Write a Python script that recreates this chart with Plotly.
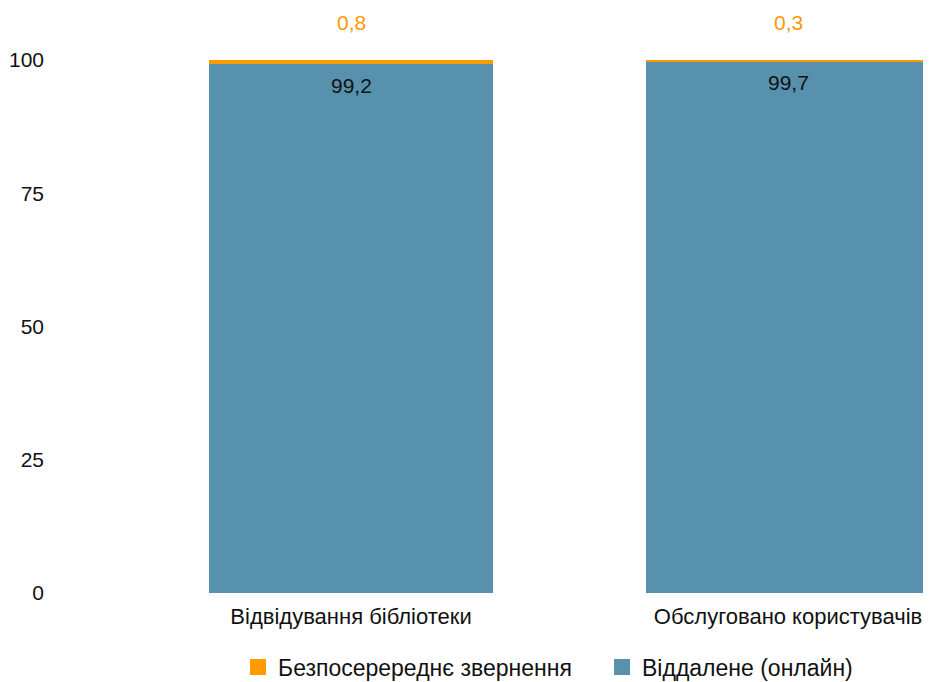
import plotly.graph_objects as go

categories = ["Відвідування бібліотеки", "Обслуговано користувачів"]
online = [99.2, 99.7]
direct = [0.8, 0.3]
series_names = ["Безпосеререднє звернення", "Віддалене (онлайн)"]
y_ticks = [0, 25, 50, 75, 100]

BLUE = "#5891AE"
ORANGE = "#FF9A00"
FONT = "Liberation Sans, Arial, sans-serif"

def fmt(v):
    return f"{v:.1f}".replace(".", ",")

x_idx = list(range(len(categories)))

fig = go.Figure()
fig.add_trace(go.Bar(
    x=x_idx, y=online, name=series_names[1], marker=dict(color=BLUE, line=dict(width=0)),
    width=0.65, showlegend=False, hoverinfo="skip"))
fig.add_trace(go.Bar(
    x=x_idx, y=direct, name=series_names[0], marker=dict(color=ORANGE, line=dict(width=0)),
    width=0.65, showlegend=False, hoverinfo="skip"))

# legend proxies (larger square swatches)
for name, col, rank in [(series_names[0], ORANGE, 1), (series_names[1], BLUE, 2)]:
    fig.add_trace(go.Scatter(
        x=[None], y=[None], mode="markers", name=name, legendrank=rank,
        marker=dict(symbol="square", size=20, color=col), hoverinfo="skip"))

annotations = []
for i, (o, d) in enumerate(zip(online, direct)):
    annotations.append(dict(x=i, y=o, text=fmt(o), showarrow=False, yshift=-21,
                            font=dict(size=21, color="#111111", family=FONT)))
    annotations.append(dict(x=i, y=o + d, text=fmt(d), showarrow=False, yshift=38,
                            font=dict(size=21, color=ORANGE, family=FONT)))

fig.update_layout(
    barmode="stack",
    width=923, height=674,
    margin=dict(l=52, r=0, t=52, b=89, autoexpand=False),
    paper_bgcolor="white", plot_bgcolor="white",
    font=dict(family=FONT, size=21, color="#111111"),
    annotations=annotations,
    showlegend=True,
    legend=dict(orientation="h", x=0.2044, xanchor="left", y=-0.139, yanchor="middle",
                traceorder="normal", entrywidth=319, entrywidthmode="pixels",
                font=dict(size=23, family=FONT, color="#111111"), itemsizing="trace",
                itemwidth=30),
    xaxis=dict(tickmode="array", tickvals=x_idx, ticktext=categories,
               range=[-0.666, 1.327], showgrid=False, zeroline=False, showline=False,
               ticks="", ticklabelstandoff=8, tickfont=dict(size=22)),
    yaxis=dict(range=[0, 100], tickvals=y_ticks, showgrid=False, zeroline=False,
               showline=False, ticks="", ticklabelstandoff=15, tickfont=dict(size=21)),
)

fig.write_html("out.html")
